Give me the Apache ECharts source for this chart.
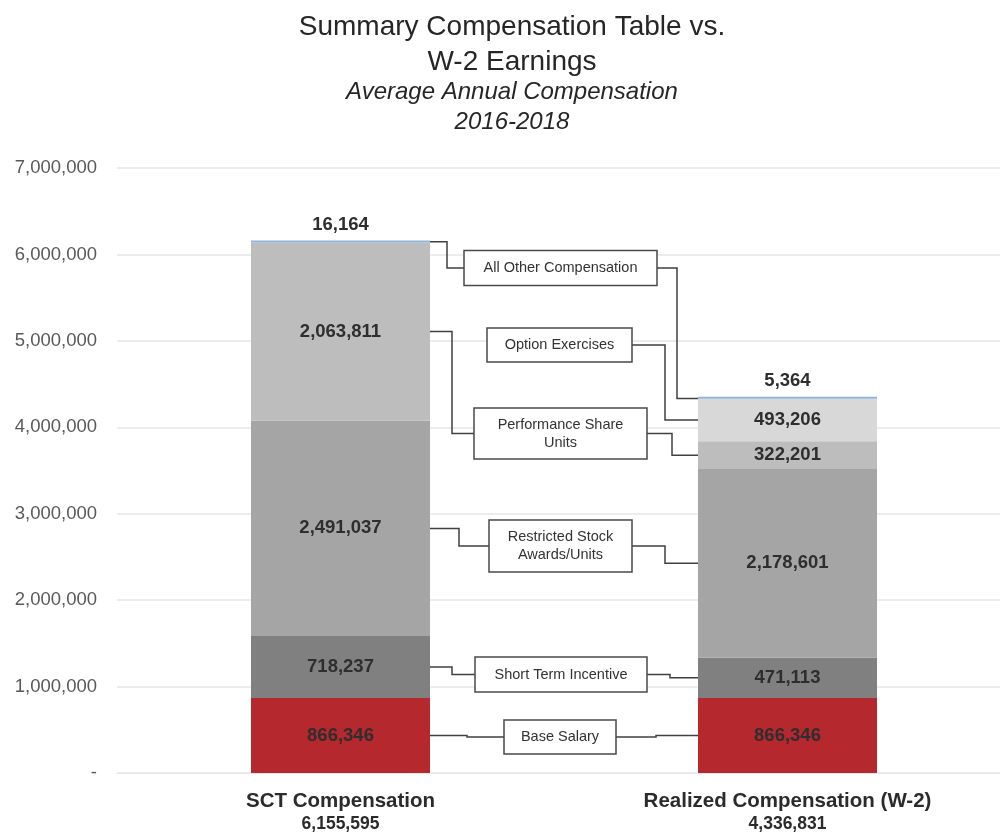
<!DOCTYPE html>
<html>
<head>
<meta charset="utf-8">
<script src="https://cdn.jsdelivr.net/npm/echarts@6/dist/echarts.min.js"></script>
<style>html,body{margin:0;padding:0;background:#fff;}#c{width:1000px;height:835px;}</style>
</head>
<body>
<div id="c"></div>
<script>
const categories = ['SCT Compensation', 'Realized Compensation (W-2)'];
const seriesNames = ['Base Salary', 'Short Term Incentive', 'Restricted Stock\nAwards/Units', 'Performance Share\nUnits', 'Option Exercises', 'All Other Compensation'];
const baseSalary = [866346, 866346];
const shortTermIncentive = [718237, 471113];
const restrictedStock = [2491037, 2178601];
const performanceShare = [2063811, 322201];
const optionExercises = [0, 493206];
const allOther = [16164, 5364];
const yTicks = [0, 1000000, 2000000, 3000000, 4000000, 5000000, 6000000, 7000000];

const allSeries = [baseSalary, shortTermIncentive, restrictedStock, performanceShare, optionExercises, allOther];
const colors = ['#b5282e', '#7f807f', '#a5a5a5', '#bdbdbd', '#d8d8d8', '#8fb4d9'];
const totals = categories.map((c, i) => allSeries.reduce((s, a) => s + a[i], 0));
const fmt = v => v.toLocaleString('en-US');
const FONT = '"Liberation Sans", Arial, sans-serif';

const BAR_W = 179;
const chart = echarts.init(document.getElementById('c'));

const series = allSeries.map((arr, k) => ({
  name: seriesNames[k],
  type: 'bar',
  stack: 'total',
  barWidth: BAR_W,
  barMinHeight: k === 5 ? 2 : 0,
  data: arr,
  itemStyle: { color: colors[k] },
  label: {
    show: true,
    position: k === 5 ? 'top' : 'inside',
    distance: 6,
    fontFamily: FONT,
    fontSize: 18.5,
    fontWeight: 'bold',
    color: '#2e2e2e',
    formatter: p => (p.value > 0 ? fmt(p.value) : '')
  },
  silent: true
}));

chart.setOption({
  animation: false,
  backgroundColor: '#fff',
  title: {
    text: 'Summary Compensation Table vs.\nW-2 Earnings',
    subtext: 'Average Annual Compensation\n2016-2018',
    left: 507,
    textAlign: 'center',
    top: 5,
    itemGap: -3,
    textStyle: { fontFamily: FONT, fontSize: 28, fontWeight: 'normal', color: '#262626', lineHeight: 35 },
    subtextStyle: { fontFamily: FONT, fontSize: 24, fontStyle: 'italic', color: '#262626', lineHeight: 30 }
  },
  grid: { left: 117, top: 168, width: 894, height: 605, outerBoundsMode: 'none', containLabel: false },
  xAxis: {
    type: 'category',
    data: categories,
    axisTick: { show: false },
    axisLine: { show: true, lineStyle: { color: '#e6e6e6', width: 1 } },
    axisLabel: {
      margin: 17,
      formatter: (v, i) => '{a|' + v + '}\n{b|' + fmt(totals[i]) + '}',
      rich: {
        a: { fontFamily: FONT, fontSize: 20.5, fontWeight: 'bold', color: '#2b2b2b', lineHeight: 23 },
        b: { fontFamily: FONT, fontSize: 17.5, fontWeight: 'bold', color: '#2b2b2b', lineHeight: 22 }
      }
    }
  },
  yAxis: {
    type: 'value',
    min: yTicks[0],
    max: yTicks[yTicks.length - 1],
    interval: yTicks[1] - yTicks[0],
    axisLine: { show: false },
    axisTick: { show: false },
    splitLine: { lineStyle: { color: '#e6e6e6', width: 1.5 } },
    axisLabel: {
      margin: 20,
      fontFamily: FONT,
      fontSize: 18.5,
      color: '#595959',
      formatter: v => (v === 0 ? '-' : fmt(v))
    }
  },
  series: series
});

// Annotation boxes (layout in pixels) with connectors computed from data
const boxes = [
  { k: 5, x0: 464, x1: 657, yc: 268, h: 35, ls: 447, rs: 677 },
  { k: 4, x0: 487, x1: 632, yc: 345, h: 34, ls: null, rs: 665 },
  { k: 3, x0: 474, x1: 647, yc: 433.5, h: 51, ls: 452, rs: 672 },
  { k: 2, x0: 489, x1: 632, yc: 546, h: 52, ls: 459, rs: 665 },
  { k: 1, x0: 475, x1: 647, yc: 674.5, h: 35, ls: 452, rs: 670 },
  { k: 0, x0: 504, x1: 616, yc: 737, h: 34, ls: 467, rs: 656 }
];

function midValue(k, i) {
  let below = 0;
  for (let j = 0; j < k; j++) below += allSeries[j][i];
  return below + allSeries[k][i] / 2;
}

const elements = [];
const lineStyle = { stroke: '#404040', lineWidth: 1.5, fill: null };
boxes.forEach(b => {
  const leftPt = chart.convertToPixel({ gridIndex: 0 }, [0, midValue(b.k, 0)]);
  const rightPt = chart.convertToPixel({ gridIndex: 0 }, [1, midValue(b.k, 1)]);
  const lx = leftPt[0] + BAR_W / 2;
  const rx = rightPt[0] - BAR_W / 2;
  if (b.ls !== null && allSeries[b.k][0] > 0) {
    elements.push({ type: 'polyline', shape: { points: [[lx, leftPt[1]], [b.ls, leftPt[1]], [b.ls, b.yc], [b.x0, b.yc]] }, style: lineStyle, z: 10 });
  }
  if (allSeries[b.k][1] > 0) {
    elements.push({ type: 'polyline', shape: { points: [[b.x1, b.yc], [b.rs, b.yc], [b.rs, rightPt[1]], [rx, rightPt[1]]] }, style: lineStyle, z: 10 });
  }
  elements.push({
    type: 'rect',
    shape: { x: b.x0, y: b.yc - b.h / 2, width: b.x1 - b.x0, height: b.h },
    style: { fill: '#fff', stroke: '#4a4a4a', lineWidth: 1.5 },
    z: 11
  });
  elements.push({
    type: 'text',
    x: (b.x0 + b.x1) / 2,
    y: b.yc,
    style: {
      text: seriesNames[b.k],
      fill: '#333',
      font: '14.5px "Liberation Sans", Arial, sans-serif',
      align: 'center',
      verticalAlign: 'middle',
      lineHeight: 18
    },
    z: 12
  });
});
chart.setOption({ graphic: { elements: elements } });
</script>
</body>
</html>
